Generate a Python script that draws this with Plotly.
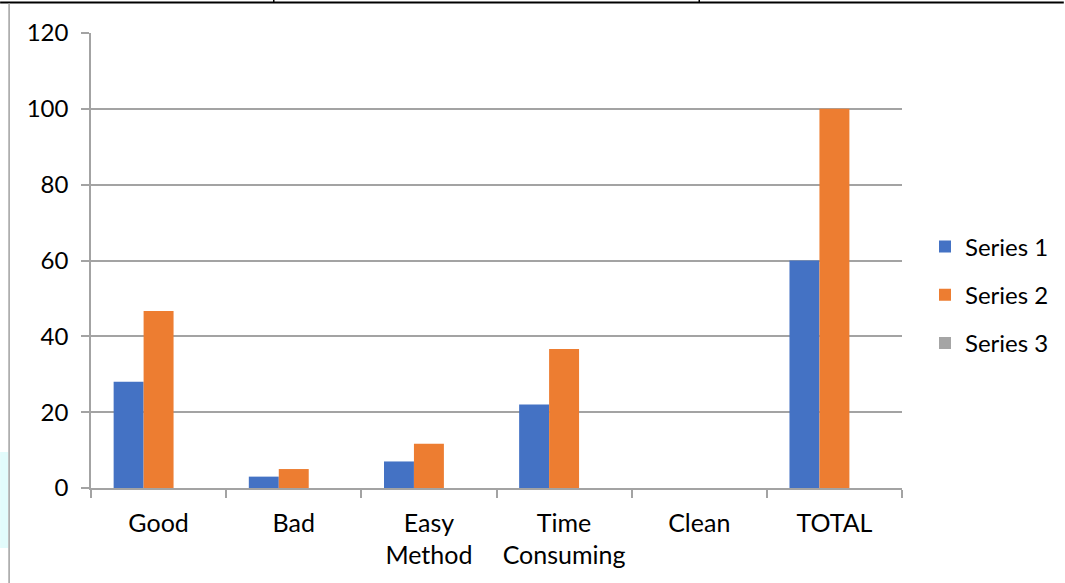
import plotly.graph_objects as go

categories = ["Good", "Bad", "Easy<br>Method", "Time<br>Consuming", "Clean", "TOTAL"]
series_1 = [28, 3, 7, 22, 0, 60]
series_2 = [46.67, 5, 11.67, 36.67, 0, 100]
series_3 = [0, 0, 0, 0, 0, 0]
series_names = ["Series 1", "Series 2", "Series 3"]
series_colors = ["#4472C4", "#ED7D31", "#A5A5A5"]
y_ticks = [0, 20, 40, 60, 80, 100, 120]

W, H = 1065, 583
L, R, T, B = 91, 903, 33, 488
FONT = "Lato"
FS = 24
GRID = "#a3a3a3"


def px_x(x):
    return (x - L) / (R - L)


def px_y(y):
    return (B - y) / (B - T)


fig = go.Figure()
for i, (name, vals, col) in enumerate(zip(series_names, [series_1, series_2, series_3], series_colors)):
    fig.add_trace(go.Bar(
        x=categories, y=vals, name=name,
        marker=dict(color=col, line=dict(width=0)),
        legendgroup=f"g{i}",
    ))

# page frame: top rule with small table ticks, left border, faint cyan smudge
shapes = [
    dict(type="line", xref="paper", yref="paper", x0=px_x(0), x1=px_x(W), y0=px_y(2.5), y1=px_y(2.5),
         line=dict(color="black", width=2)),
    dict(type="line", xref="paper", yref="paper", x0=px_x(274), x1=px_x(274), y0=px_y(0), y1=px_y(3),
         line=dict(color="black", width=1.5)),
    dict(type="line", xref="paper", yref="paper", x0=px_x(700), x1=px_x(700), y0=px_y(0), y1=px_y(3),
         line=dict(color="black", width=1.5)),
    dict(type="line", xref="paper", yref="paper", x0=px_x(9), x1=px_x(9), y0=px_y(3), y1=px_y(H),
         line=dict(color="#a0a0a0", width=1.5)),
    dict(type="rect", xref="paper", yref="paper", x0=px_x(0), x1=px_x(8), y0=px_y(452), y1=px_y(548),
         fillcolor="#e2fbfb", line=dict(width=0), layer="below"),
]

fig.update_layout(
    width=W, height=H,
    margin=dict(l=L, r=W - R, t=T, b=H - B, pad=0),
    paper_bgcolor="white", plot_bgcolor="white",
    barmode="group", bargap=0.335, bargroupgap=0,
    font=dict(family=FONT, size=FS, color="black"),
    showlegend=True,
    legend=dict(
        x=px_x(925), y=px_y(295), xanchor="left", yanchor="middle",
        font=dict(family=FONT, size=FS, color="black"),
        traceorder="grouped", tracegroupgap=14,
        bgcolor="rgba(0,0,0,0)",
    ),
    shapes=shapes,
    xaxis=dict(
        range=[-0.5, 5.5],
        tickson="boundaries",
        ticks="outside", ticklen=8, tickcolor=GRID, tickwidth=1.5,
        showline=True, linecolor=GRID, linewidth=1.5,
        showgrid=False,
        tickfont=dict(family=FONT, size=25, color="black"),
        ticklabelstandoff=12,
    ),
    yaxis=dict(
        range=[0, 120],
        tickvals=y_ticks,
        ticks="outside", ticklen=8, tickcolor=GRID, tickwidth=1.5,
        showline=True, linecolor=GRID, linewidth=1.5,
        showgrid=True, gridcolor=GRID, gridwidth=1.5,
        zeroline=False,
        tickfont=dict(family=FONT, size=FS, color="black"),
        ticklabelstandoff=8,
    ),
)

fig.write_html("out.html")
